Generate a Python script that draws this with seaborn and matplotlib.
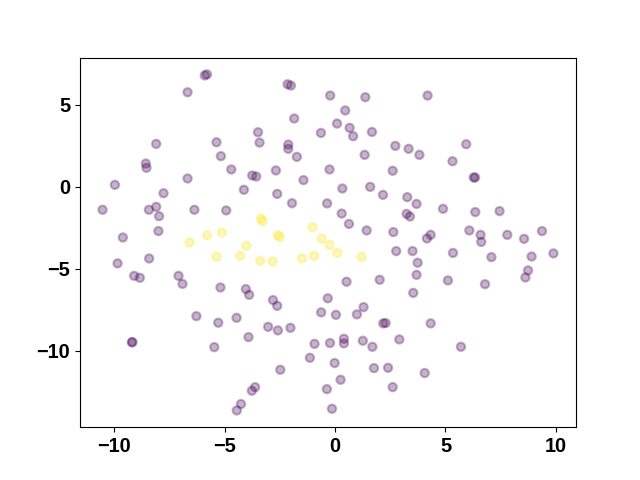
import numpy as np
import pandas as pd
import matplotlib
matplotlib.use("Agg")
import matplotlib.pyplot as plt
from matplotlib.ticker import MultipleLocator
import seaborn as sns

# cluster 0 (purple)
purple_x = [-5.90, -5.80, -6.68, -2.15, -2.00, -0.22, -1.85, -3.49, -0.64, -8.10,
            -5.37, -3.42, -2.12, -2.12, -5.17, -1.73, -8.57, -8.54, -4.70, -0.25,
            -3.75, -3.57, -2.68, -6.68, -9.97, -1.43, -7.77, -4.13, -2.62, -1.95,
            -0.36, -10.53, -8.43, -8.10, -7.97, -6.37, -4.93, -8.00, -9.61,
            1.37, 4.19, 0.46, 0.09, 0.66, 0.82, 1.67, 2.73, 3.33, 3.82,
            1.34, 5.94, 5.32, 2.61, 6.28, 6.34, 0.33, 1.59, 2.17, 3.27,
            3.69, 0.30, 0.63, 3.24, 3.39, 4.89, 6.35, 7.45, 1.43, 2.64,
            4.16, 4.33, 6.08, 6.59, 6.62, 7.80, 8.56, 9.37,
            2.77, 3.51, 5.34, 7.08, 8.90, 9.89, 3.74, 3.69, 8.74, 8.62,
            0.52, 2.02, 5.11, 6.79, 3.54, -0.33, 1.29, 0.99, 0.04, 2.18,
            2.29, 4.33, 0.40, 0.40, -0.23, 1.26, 1.69, 2.91, 5.70, -0.02,
            1.76, 2.40, 4.06, 0.25, -0.37, 2.61, -0.14,
            -9.85, -8.42, -9.10, -8.84, -7.09, -6.91, -5.19, -4.04, -3.89, -2.81,
            -2.62, -0.63, -6.28, -4.46, -5.29, -3.03, -2.59, -2.02, -3.92, -9.18,
            -9.20, -5.47, -0.93, -1.14, -2.48, -3.62, -3.77, -4.26, -4.45]
purple_y = [6.79, 6.85, 5.76, 6.25, 6.17, 5.56, 4.16, 3.32, 3.28, 2.61,
            2.71, 2.69, 2.57, 2.31, 1.86, 1.82, 1.41, 1.15, 1.05, 1.05,
            0.68, 0.62, 0.99, 0.50, 0.11, 0.40, -0.40, -0.19, -0.44, -1.01,
            -1.02, -1.41, -1.41, -1.23, -1.80, -1.41, -1.45, -2.71, -3.10,
            5.46, 5.56, 4.65, 3.85, 3.59, 3.08, 3.34, 2.49, 2.31, 1.94,
            1.94, 2.59, 1.55, 0.97, 0.56, 0.56, -0.11, -0.01, -0.50, -0.64,
            -1.05, -1.64, -2.27, -1.66, -1.82, -1.35, -1.55, -1.49, -2.67, -2.77,
            -3.16, -2.94, -2.67, -2.94, -3.37, -2.94, -3.18, -2.71,
            -3.93, -3.93, -4.04, -4.30, -4.26, -4.07, -4.64, -5.38, -5.11, -5.54,
            -5.80, -5.68, -5.72, -5.95, -6.48, -6.81, -7.35, -7.79, -7.82, -8.34,
            -8.32, -8.34, -9.28, -9.56, -9.54, -9.40, -9.77, -9.32, -9.77, -10.76,
            -11.07, -11.05, -11.37, -11.78, -12.35, -12.23, -13.55,
            -4.68, -4.38, -5.44, -5.56, -5.44, -5.93, -6.15, -6.25, -6.60, -6.92,
            -7.27, -7.67, -7.90, -8.00, -8.30, -8.55, -8.77, -8.61, -9.18, -9.48,
            -9.50, -9.79, -9.59, -10.44, -11.17, -12.23, -12.45, -13.26, -13.65]

# cluster 1 (yellow)
yellow_x = [-3.36, -3.28, -5.80, -5.12, -6.59, -2.59, -2.51, -1.02, -0.61, -4.02,
            -0.25, -5.37, -4.30, -3.39, -2.83, -1.50, -0.94, 0.10, 1.20]
yellow_y = [-1.94, -2.10, -2.96, -2.80, -3.40, -2.96, -3.08, -2.47, -3.16, -3.61,
            -3.55, -4.28, -4.22, -4.52, -4.56, -4.38, -4.22, -4.04, -4.28]

df = pd.DataFrame({
    "x": purple_x + yellow_x,
    "y": purple_y + yellow_y,
    "label": [0] * len(purple_x) + [1] * len(yellow_x),
})

plt.rcParams["font.family"] = ["Liberation Sans", "DejaVu Sans"]

fig, ax = plt.subplots(figsize=(6.4, 4.8), dpi=100)
sns.scatterplot(
    data=df, x="x", y="y", hue="label",
    palette={0: "#440154", 1: "#fde725"},
    alpha=0.3, s=36, linewidth=1.5, edgecolor="face",
    legend=False, ax=ax
)
ax.set_xlabel("")
ax.set_ylabel("")
ax.xaxis.set_major_locator(MultipleLocator(5))
ax.yaxis.set_major_locator(MultipleLocator(5))
ax.tick_params(labelsize=14.4)
for lbl in ax.get_xticklabels() + ax.get_yticklabels():
    lbl.set_fontweight("bold")

plt.savefig("out.png", dpi=100)
